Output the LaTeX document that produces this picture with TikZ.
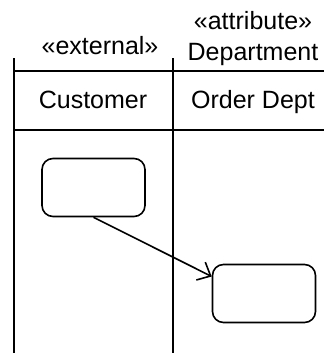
\documentclass[tikz,border=0pt]{standalone}
\usepackage{fontspec}
\setmainfont{Liberation Sans}
\usetikzlibrary{arrows.meta}

\begin{document}
\begin{tikzpicture}[
        x=1pt, y=-1pt,
        line width=1.6pt,
        label/.style={anchor=base, inner sep=0pt, font=\fontsize{25}{28}\selectfont},
        action/.style={draw, rounded corners=11pt, minimum width=103pt, minimum height=58pt, inner sep=0pt},
    ]
    \useasboundingbox (0, 0) rectangle (324, 356);

    % swimlanes
    \draw (14, 58) -- (14, 353);
    \draw (173, 58) -- (173, 353);
    \draw (14, 71) -- (324, 71);
    \draw (14, 130) -- (324, 130);

    \node[label] (stereoA) at (100, 54) {«external»};
    \node[label] (stereoB) at (253, 29) {«attribute»};
    \node[label] (dept) at (253, 60) {Department};
    \node[label] (customer) at (93, 108) {Customer};
    \node[label] (order) at (253, 108) {Order Dept};

    \node[action] (first) at (93.5, 187.5) {};
    \node[action] (second) at (264, 293.5) {};

    \draw[-{Straight Barb[length=11pt, width=20pt]}] (first.south) -- (second.162);
\end{tikzpicture}
\end{document}
